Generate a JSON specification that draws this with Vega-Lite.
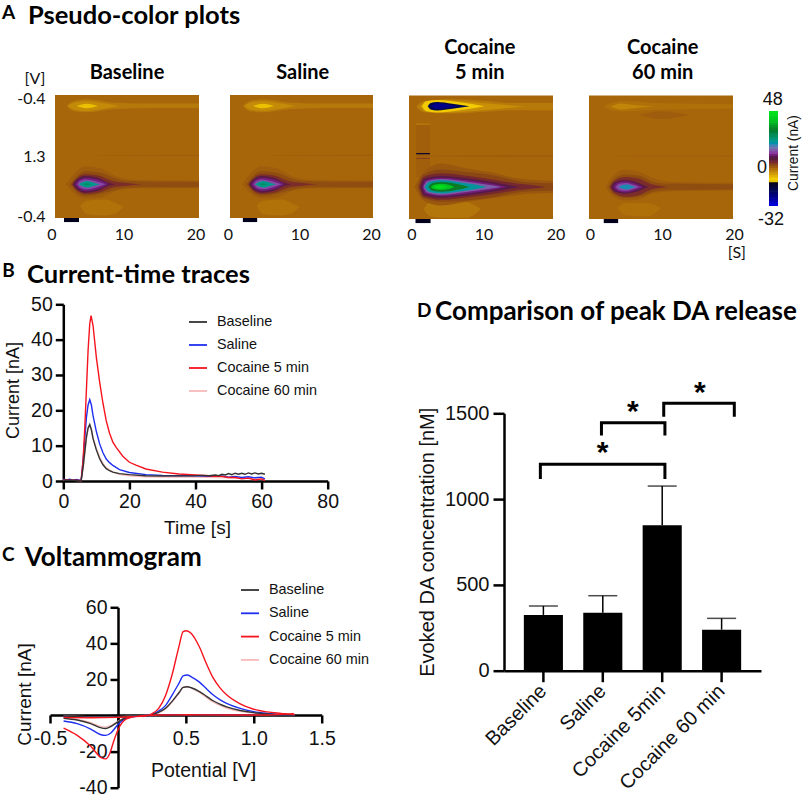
{"$schema":"https://vega.github.io/schema/vega-lite/v6.json","width":803,"height":797,"autosize":"none","padding":0,"background":"white",
"config":{"view":{"stroke":null},"axis":{"grid":false,"labelFont":"Liberation Sans","titleFont":"Liberation Sans","labelColor":"#111","titleColor":"#111","domainColor":"#000","tickColor":"#000","titleFontWeight":"normal","labelOverlap":false,"labelFlush":false,"labelFontSize":19.5,"titleFontSize":19,"domainWidth":2.5,"tickWidth":2.5,"tickSize":8,"labelPadding":3,"tickRound":false}},
"resolve":{"scale":{"x":"independent","y":"independent","color":"independent"},"axis":{"x":"independent","y":"independent"},"legend":{"color":"independent"}},
"datasets":{
"contours":[
{"p":"Baseline","c":"bg","v":0,"t":0,"lo":0,"hi":100},{"p":"Baseline","c":"bg","v":0,"t":20,"lo":0,"hi":100},
{"p":"Baseline","c":"hz","v":-1.2,"t":3.5,"lo":90,"hi":90},{"p":"Baseline","c":"hz","v":-1.2,"t":4.5,"lo":86,"hi":97},{"p":"Baseline","c":"hz","v":-1.2,"t":7,"lo":85,"hi":98},{"p":"Baseline","c":"hz","v":-1.2,"t":8.5,"lo":88,"hi":96},{"p":"Baseline","c":"hz","v":-1.2,"t":9.5,"lo":91,"hi":91},
{"p":"Baseline","c":"s1","v":-1.8,"t":1.6,"lo":9,"hi":9},{"p":"Baseline","c":"s1","v":-1.8,"t":2.5,"lo":5,"hi":13},{"p":"Baseline","c":"s1","v":-1.8,"t":4.5,"lo":3.5,"hi":14},{"p":"Baseline","c":"s1","v":-1.8,"t":8,"lo":6,"hi":11.5},{"p":"Baseline","c":"s1","v":-1.8,"t":14,"lo":7,"hi":10.5},{"p":"Baseline","c":"s1","v":-1.8,"t":20,"lo":7,"hi":10.5},
{"p":"Baseline","c":"s2","v":-3.5,"t":1.8,"lo":9,"hi":9},{"p":"Baseline","c":"s2","v":-3.5,"t":2.5,"lo":6.5,"hi":11.5},{"p":"Baseline","c":"s2","v":-3.5,"t":4.4,"lo":5,"hi":13},{"p":"Baseline","c":"s2","v":-3.5,"t":7,"lo":7,"hi":11},{"p":"Baseline","c":"s2","v":-3.5,"t":9,"lo":9,"hi":9},
{"p":"Baseline","c":"s3","v":-8,"t":3,"lo":9,"hi":9},{"p":"Baseline","c":"s3","v":-8,"t":4.4,"lo":7.2,"hi":10.8},{"p":"Baseline","c":"s3","v":-8,"t":6,"lo":9,"hi":9},
{"p":"Baseline","c":"ln","v":0.8,"t":6,"lo":48.8,"hi":49.2},{"p":"Baseline","c":"ln","v":0.8,"t":20,"lo":48.6,"hi":49.4},
{"p":"Baseline","c":"g1","v":0.8,"t":1.5,"lo":72.6,"hi":72.6},{"p":"Baseline","c":"g1","v":0.8,"t":2.5,"lo":65,"hi":79},{"p":"Baseline","c":"g1","v":0.8,"t":4.2,"lo":58,"hi":84},{"p":"Baseline","c":"g1","v":0.8,"t":6.5,"lo":60,"hi":83},{"p":"Baseline","c":"g1","v":0.8,"t":8.5,"lo":66,"hi":78},{"p":"Baseline","c":"g1","v":0.8,"t":11,"lo":69,"hi":76},{"p":"Baseline","c":"g1","v":0.8,"t":20,"lo":69.5,"hi":75.8},
{"p":"Baseline","c":"g2","v":2,"t":2.1,"lo":72.6,"hi":72.6},{"p":"Baseline","c":"g2","v":2,"t":3,"lo":66,"hi":79},{"p":"Baseline","c":"g2","v":2,"t":4.2,"lo":62,"hi":82},{"p":"Baseline","c":"g2","v":2,"t":6.5,"lo":63.5,"hi":80},{"p":"Baseline","c":"g2","v":2,"t":8.5,"lo":68,"hi":77},{"p":"Baseline","c":"g2","v":2,"t":10,"lo":69.8,"hi":75.4},{"p":"Baseline","c":"g2","v":2,"t":14,"lo":70.5,"hi":75},{"p":"Baseline","c":"g2","v":2,"t":20,"lo":70.5,"hi":75},
{"p":"Baseline","c":"g3","v":4.5,"t":2.35,"lo":72.6,"hi":72.6},{"p":"Baseline","c":"g3","v":4.5,"t":3,"lo":68,"hi":77.5},{"p":"Baseline","c":"g3","v":4.5,"t":4.2,"lo":64.5,"hi":80.5},{"p":"Baseline","c":"g3","v":4.5,"t":6,"lo":65.5,"hi":79.5},{"p":"Baseline","c":"g3","v":4.5,"t":8,"lo":70,"hi":75.2},{"p":"Baseline","c":"g3","v":4.5,"t":10,"lo":71.5,"hi":73.8},{"p":"Baseline","c":"g3","v":4.5,"t":12,"lo":72.6,"hi":72.6},
{"p":"Baseline","c":"p1","v":9,"t":2.5,"lo":72.6,"hi":72.6},{"p":"Baseline","c":"p1","v":9,"t":3,"lo":68.8,"hi":76.4},{"p":"Baseline","c":"p1","v":9,"t":4.2,"lo":65.8,"hi":79.4},{"p":"Baseline","c":"p1","v":9,"t":6,"lo":67.5,"hi":77.7},{"p":"Baseline","c":"p1","v":9,"t":7.6,"lo":71.8,"hi":73.4},{"p":"Baseline","c":"p1","v":9,"t":8.3,"lo":72.6,"hi":72.6},
{"p":"Baseline","c":"p2","v":11,"t":2.8,"lo":72.6,"hi":72.6},{"p":"Baseline","c":"p2","v":11,"t":3.2,"lo":69.5,"hi":75.7},{"p":"Baseline","c":"p2","v":11,"t":4.2,"lo":67.2,"hi":78},{"p":"Baseline","c":"p2","v":11,"t":6,"lo":68.8,"hi":76.4},{"p":"Baseline","c":"p2","v":11,"t":7.4,"lo":72.6,"hi":72.6},
{"p":"Baseline","c":"p3","v":14,"t":3.1,"lo":72.6,"hi":72.6},{"p":"Baseline","c":"p3","v":14,"t":3.5,"lo":70,"hi":75.2},{"p":"Baseline","c":"p3","v":14,"t":4.3,"lo":68.6,"hi":76.6},{"p":"Baseline","c":"p3","v":14,"t":5.8,"lo":70.3,"hi":74.9},{"p":"Baseline","c":"p3","v":14,"t":7,"lo":72.6,"hi":72.6},
{"p":"Baseline","c":"p4","v":23,"t":3.3,"lo":72.6,"hi":72.6},{"p":"Baseline","c":"p4","v":23,"t":3.8,"lo":71,"hi":74.2},{"p":"Baseline","c":"p4","v":23,"t":4.4,"lo":70,"hi":75.2},{"p":"Baseline","c":"p4","v":23,"t":5.5,"lo":71.5,"hi":73.7},{"p":"Baseline","c":"p4","v":23,"t":6.2,"lo":72.6,"hi":72.6},
{"p":"Baseline","c":"p5","v":27,"t":3.9,"lo":72.6,"hi":72.6},{"p":"Baseline","c":"p5","v":27,"t":4.4,"lo":71.8,"hi":73.4},{"p":"Baseline","c":"p5","v":27,"t":5,"lo":72.6,"hi":72.6},
{"p":"Baseline","c":"stim","v":-13,"t":1.25,"lo":100,"hi":103.3},{"p":"Baseline","c":"stim","v":-13,"t":3.33,"lo":100,"hi":103.3},

{"p":"Saline","c":"bg","v":0,"t":0,"lo":0,"hi":100},{"p":"Saline","c":"bg","v":0,"t":20,"lo":0,"hi":100},
{"p":"Saline","c":"hz","v":-1.2,"t":3.7,"lo":90,"hi":90},{"p":"Saline","c":"hz","v":-1.2,"t":4.7,"lo":86,"hi":97},{"p":"Saline","c":"hz","v":-1.2,"t":7.2,"lo":85,"hi":98},{"p":"Saline","c":"hz","v":-1.2,"t":8.7,"lo":88,"hi":96},{"p":"Saline","c":"hz","v":-1.2,"t":9.7,"lo":91,"hi":91},
{"p":"Saline","c":"s1","v":-1.8,"t":1.8,"lo":9,"hi":9},{"p":"Saline","c":"s1","v":-1.8,"t":2.7,"lo":5,"hi":13},{"p":"Saline","c":"s1","v":-1.8,"t":4.7,"lo":3.5,"hi":14},{"p":"Saline","c":"s1","v":-1.8,"t":8.2,"lo":6,"hi":11.5},{"p":"Saline","c":"s1","v":-1.8,"t":14,"lo":7,"hi":10.5},{"p":"Saline","c":"s1","v":-1.8,"t":20,"lo":7,"hi":10.5},
{"p":"Saline","c":"s2","v":-3.5,"t":2,"lo":9,"hi":9},{"p":"Saline","c":"s2","v":-3.5,"t":2.7,"lo":6.5,"hi":11.5},{"p":"Saline","c":"s2","v":-3.5,"t":4.6,"lo":5,"hi":13},{"p":"Saline","c":"s2","v":-3.5,"t":7.2,"lo":7,"hi":11},{"p":"Saline","c":"s2","v":-3.5,"t":9.2,"lo":9,"hi":9},
{"p":"Saline","c":"s3","v":-8,"t":3.2,"lo":9,"hi":9},{"p":"Saline","c":"s3","v":-8,"t":4.6,"lo":7.2,"hi":10.8},{"p":"Saline","c":"s3","v":-8,"t":6.2,"lo":9,"hi":9},
{"p":"Saline","c":"ln","v":0.8,"t":6,"lo":48.8,"hi":49.2},{"p":"Saline","c":"ln","v":0.8,"t":20,"lo":48.6,"hi":49.4},
{"p":"Saline","c":"g1","v":0.8,"t":1.7,"lo":72.6,"hi":72.6},{"p":"Saline","c":"g1","v":0.8,"t":2.7,"lo":65,"hi":79},{"p":"Saline","c":"g1","v":0.8,"t":4.4,"lo":58,"hi":84},{"p":"Saline","c":"g1","v":0.8,"t":6.7,"lo":60,"hi":83},{"p":"Saline","c":"g1","v":0.8,"t":8.7,"lo":66,"hi":78},{"p":"Saline","c":"g1","v":0.8,"t":11.2,"lo":69,"hi":76},{"p":"Saline","c":"g1","v":0.8,"t":20,"lo":69.5,"hi":75.8},
{"p":"Saline","c":"g2","v":2,"t":2.3,"lo":72.6,"hi":72.6},{"p":"Saline","c":"g2","v":2,"t":3.2,"lo":66,"hi":79},{"p":"Saline","c":"g2","v":2,"t":4.4,"lo":62,"hi":82},{"p":"Saline","c":"g2","v":2,"t":6.7,"lo":63.5,"hi":80},{"p":"Saline","c":"g2","v":2,"t":8.7,"lo":68,"hi":77},{"p":"Saline","c":"g2","v":2,"t":10.2,"lo":69.8,"hi":75.4},{"p":"Saline","c":"g2","v":2,"t":14,"lo":70.5,"hi":75},{"p":"Saline","c":"g2","v":2,"t":20,"lo":70.5,"hi":75},
{"p":"Saline","c":"g3","v":4.5,"t":2.55,"lo":72.6,"hi":72.6},{"p":"Saline","c":"g3","v":4.5,"t":3.2,"lo":68,"hi":77.5},{"p":"Saline","c":"g3","v":4.5,"t":4.4,"lo":64.5,"hi":80.5},{"p":"Saline","c":"g3","v":4.5,"t":6.2,"lo":65.5,"hi":79.5},{"p":"Saline","c":"g3","v":4.5,"t":8.2,"lo":70,"hi":75.2},{"p":"Saline","c":"g3","v":4.5,"t":10.2,"lo":71.5,"hi":73.8},{"p":"Saline","c":"g3","v":4.5,"t":12.2,"lo":72.6,"hi":72.6},
{"p":"Saline","c":"p1","v":9,"t":2.7,"lo":72.6,"hi":72.6},{"p":"Saline","c":"p1","v":9,"t":3.2,"lo":68.8,"hi":76.4},{"p":"Saline","c":"p1","v":9,"t":4.4,"lo":65.8,"hi":79.4},{"p":"Saline","c":"p1","v":9,"t":6.2,"lo":67.5,"hi":77.7},{"p":"Saline","c":"p1","v":9,"t":7.8,"lo":71.8,"hi":73.4},{"p":"Saline","c":"p1","v":9,"t":8.5,"lo":72.6,"hi":72.6},
{"p":"Saline","c":"p2","v":11,"t":3,"lo":72.6,"hi":72.6},{"p":"Saline","c":"p2","v":11,"t":3.4,"lo":69.5,"hi":75.7},{"p":"Saline","c":"p2","v":11,"t":4.4,"lo":67.2,"hi":78},{"p":"Saline","c":"p2","v":11,"t":6.2,"lo":68.8,"hi":76.4},{"p":"Saline","c":"p2","v":11,"t":7.6,"lo":72.6,"hi":72.6},
{"p":"Saline","c":"p3","v":14,"t":3.3,"lo":72.6,"hi":72.6},{"p":"Saline","c":"p3","v":14,"t":3.7,"lo":70,"hi":75.2},{"p":"Saline","c":"p3","v":14,"t":4.5,"lo":68.6,"hi":76.6},{"p":"Saline","c":"p3","v":14,"t":6,"lo":70.3,"hi":74.9},{"p":"Saline","c":"p3","v":14,"t":7.2,"lo":72.6,"hi":72.6},
{"p":"Saline","c":"p4","v":23,"t":3.5,"lo":72.6,"hi":72.6},{"p":"Saline","c":"p4","v":23,"t":4,"lo":71,"hi":74.2},{"p":"Saline","c":"p4","v":23,"t":4.6,"lo":70,"hi":75.2},{"p":"Saline","c":"p4","v":23,"t":5.7,"lo":71.5,"hi":73.7},{"p":"Saline","c":"p4","v":23,"t":6.4,"lo":72.6,"hi":72.6},
{"p":"Saline","c":"p5","v":27,"t":4.1,"lo":72.6,"hi":72.6},{"p":"Saline","c":"p5","v":27,"t":4.6,"lo":71.8,"hi":73.4},{"p":"Saline","c":"p5","v":27,"t":5.2,"lo":72.6,"hi":72.6},
{"p":"Saline","c":"stim","v":-13,"t":1.8,"lo":100,"hi":103.3},{"p":"Saline","c":"stim","v":-13,"t":3.8,"lo":100,"hi":103.3},

{"p":"Cocaine 5","c":"bg","v":0,"t":0,"lo":0,"hi":100},{"p":"Cocaine 5","c":"bg","v":0,"t":20,"lo":0,"hi":100},
{"p":"Cocaine 5","c":"strip","v":0.6,"t":1,"lo":23,"hi":66},{"p":"Cocaine 5","c":"strip","v":0.6,"t":2.9,"lo":23,"hi":66},
{"p":"Cocaine 5","c":"hz","v":-1.6,"t":2,"lo":92,"hi":92},{"p":"Cocaine 5","c":"hz","v":-1.6,"t":3,"lo":86,"hi":98},{"p":"Cocaine 5","c":"hz","v":-1.6,"t":5,"lo":84,"hi":99},{"p":"Cocaine 5","c":"hz","v":-1.6,"t":8,"lo":86,"hi":99},{"p":"Cocaine 5","c":"hz","v":-1.6,"t":10,"lo":92,"hi":92},
{"p":"Cocaine 5","c":"s1","v":-2,"t":1,"lo":9,"hi":9},{"p":"Cocaine 5","c":"s1","v":-2,"t":2,"lo":4.5,"hi":13.5},{"p":"Cocaine 5","c":"s1","v":-2,"t":6,"lo":3,"hi":14.5},{"p":"Cocaine 5","c":"s1","v":-2,"t":11,"lo":4.5,"hi":13},{"p":"Cocaine 5","c":"s1","v":-2,"t":14,"lo":6,"hi":12},{"p":"Cocaine 5","c":"s1","v":-2,"t":20,"lo":6,"hi":12},
{"p":"Cocaine 5","c":"s2","v":-4,"t":1.5,"lo":9,"hi":9},{"p":"Cocaine 5","c":"s2","v":-4,"t":2.3,"lo":5,"hi":13},{"p":"Cocaine 5","c":"s2","v":-4,"t":5,"lo":3.8,"hi":13.8},{"p":"Cocaine 5","c":"s2","v":-4,"t":9,"lo":5.5,"hi":12.5},{"p":"Cocaine 5","c":"s2","v":-4,"t":13,"lo":7.5,"hi":10.5},{"p":"Cocaine 5","c":"s2","v":-4,"t":16,"lo":9,"hi":9},
{"p":"Cocaine 5","c":"s3","v":-9,"t":1.8,"lo":8.7,"hi":8.7},{"p":"Cocaine 5","c":"s3","v":-9,"t":2.4,"lo":4.7,"hi":12.7},{"p":"Cocaine 5","c":"s3","v":-9,"t":4,"lo":3.6,"hi":13.8},{"p":"Cocaine 5","c":"s3","v":-9,"t":7,"lo":5.5,"hi":12},{"p":"Cocaine 5","c":"s3","v":-9,"t":10.5,"lo":8.7,"hi":8.7},
{"p":"Cocaine 5","c":"n1","v":-18,"t":2.6,"lo":8.7,"hi":8.7},{"p":"Cocaine 5","c":"n1","v":-18,"t":3,"lo":6,"hi":11.3},{"p":"Cocaine 5","c":"n1","v":-18,"t":3.9,"lo":5.3,"hi":12.1},{"p":"Cocaine 5","c":"n1","v":-18,"t":6,"lo":6.7,"hi":10.7},{"p":"Cocaine 5","c":"n1","v":-18,"t":8.4,"lo":8.7,"hi":8.7},
{"p":"Cocaine 5","c":"n2","v":-24,"t":3,"lo":8.7,"hi":8.7},{"p":"Cocaine 5","c":"n2","v":-24,"t":3.9,"lo":6.3,"hi":11},{"p":"Cocaine 5","c":"n2","v":-24,"t":5.5,"lo":7.5,"hi":10},{"p":"Cocaine 5","c":"n2","v":-24,"t":6.8,"lo":8.7,"hi":8.7},
{"p":"Cocaine 5","c":"o1","v":-3,"t":1,"lo":22.8,"hi":23.6},{"p":"Cocaine 5","c":"o1","v":-3,"t":2.9,"lo":22.8,"hi":23.6},
{"p":"Cocaine 5","c":"o2","v":-15,"t":1,"lo":46.6,"hi":47.6},{"p":"Cocaine 5","c":"o2","v":-15,"t":2.9,"lo":46.6,"hi":47.6},
{"p":"Cocaine 5","c":"o3","v":3,"t":1,"lo":50.6,"hi":51.4},{"p":"Cocaine 5","c":"o3","v":3,"t":2.9,"lo":50.6,"hi":51.4},
{"p":"Cocaine 5","c":"ln","v":1,"t":3,"lo":48.8,"hi":49.4},{"p":"Cocaine 5","c":"ln","v":1,"t":20,"lo":48.6,"hi":49.6},
{"p":"Cocaine 5","c":"g1","v":1.2,"t":0.8,"lo":74,"hi":74},{"p":"Cocaine 5","c":"g1","v":1.2,"t":2,"lo":62,"hi":85},{"p":"Cocaine 5","c":"g1","v":1.2,"t":4.5,"lo":55,"hi":89},{"p":"Cocaine 5","c":"g1","v":1.2,"t":8,"lo":59,"hi":86},{"p":"Cocaine 5","c":"g1","v":1.2,"t":12,"lo":63,"hi":83},{"p":"Cocaine 5","c":"g1","v":1.2,"t":15,"lo":67,"hi":80.5},{"p":"Cocaine 5","c":"g1","v":1.2,"t":20,"lo":69,"hi":79},
{"p":"Cocaine 5","c":"g2","v":2.6,"t":1.2,"lo":74,"hi":74},{"p":"Cocaine 5","c":"g2","v":2.6,"t":2,"lo":64,"hi":83},{"p":"Cocaine 5","c":"g2","v":2.6,"t":4.5,"lo":60,"hi":86},{"p":"Cocaine 5","c":"g2","v":2.6,"t":8,"lo":62,"hi":85},{"p":"Cocaine 5","c":"g2","v":2.6,"t":12,"lo":65,"hi":82},{"p":"Cocaine 5","c":"g2","v":2.6,"t":15,"lo":69,"hi":78.5},{"p":"Cocaine 5","c":"g2","v":2.6,"t":17,"lo":70.5,"hi":77.5},{"p":"Cocaine 5","c":"g2","v":2.6,"t":20,"lo":71,"hi":77},
{"p":"Cocaine 5","c":"g3","v":5,"t":1.4,"lo":74,"hi":74},{"p":"Cocaine 5","c":"g3","v":5,"t":2,"lo":66,"hi":82},{"p":"Cocaine 5","c":"g3","v":5,"t":4.5,"lo":63,"hi":84.5},{"p":"Cocaine 5","c":"g3","v":5,"t":8,"lo":65,"hi":82.5},{"p":"Cocaine 5","c":"g3","v":5,"t":12,"lo":68.5,"hi":79.5},{"p":"Cocaine 5","c":"g3","v":5,"t":15,"lo":71.2,"hi":76.8},{"p":"Cocaine 5","c":"g3","v":5,"t":17,"lo":72.5,"hi":75.5},{"p":"Cocaine 5","c":"g3","v":5,"t":19,"lo":74,"hi":74},
{"p":"Cocaine 5","c":"p1","v":9,"t":1.6,"lo":74,"hi":74},{"p":"Cocaine 5","c":"p1","v":9,"t":2.1,"lo":67.5,"hi":80.5},{"p":"Cocaine 5","c":"p1","v":9,"t":4.5,"lo":65.2,"hi":82.8},{"p":"Cocaine 5","c":"p1","v":9,"t":8,"lo":67,"hi":81},{"p":"Cocaine 5","c":"p1","v":9,"t":12,"lo":70.5,"hi":77.5},{"p":"Cocaine 5","c":"p1","v":9,"t":14.7,"lo":73.4,"hi":74.6},{"p":"Cocaine 5","c":"p1","v":9,"t":15.5,"lo":74,"hi":74},
{"p":"Cocaine 5","c":"p2","v":11,"t":1.85,"lo":74,"hi":74},{"p":"Cocaine 5","c":"p2","v":11,"t":2.3,"lo":68.5,"hi":79.5},{"p":"Cocaine 5","c":"p2","v":11,"t":4.5,"lo":66.5,"hi":81.5},{"p":"Cocaine 5","c":"p2","v":11,"t":8,"lo":68.5,"hi":79.5},{"p":"Cocaine 5","c":"p2","v":11,"t":11.5,"lo":71.5,"hi":76.5},{"p":"Cocaine 5","c":"p2","v":11,"t":13.6,"lo":74,"hi":74},
{"p":"Cocaine 5","c":"p3","v":15,"t":2,"lo":74,"hi":74},{"p":"Cocaine 5","c":"p3","v":15,"t":2.5,"lo":69.5,"hi":78.5},{"p":"Cocaine 5","c":"p3","v":15,"t":4.5,"lo":67.6,"hi":80.4},{"p":"Cocaine 5","c":"p3","v":15,"t":8,"lo":69.8,"hi":78.2},{"p":"Cocaine 5","c":"p3","v":15,"t":11,"lo":72.3,"hi":75.7},{"p":"Cocaine 5","c":"p3","v":15,"t":12.8,"lo":74,"hi":74},
{"p":"Cocaine 5","c":"p4","v":22,"t":2.2,"lo":74,"hi":74},{"p":"Cocaine 5","c":"p4","v":22,"t":2.8,"lo":70,"hi":78},{"p":"Cocaine 5","c":"p4","v":22,"t":4.5,"lo":68.6,"hi":79.4},{"p":"Cocaine 5","c":"p4","v":22,"t":7.5,"lo":70.6,"hi":77.4},{"p":"Cocaine 5","c":"p4","v":22,"t":9.5,"lo":72.5,"hi":75.5},{"p":"Cocaine 5","c":"p4","v":22,"t":10.8,"lo":74,"hi":74},
{"p":"Cocaine 5","c":"p5","v":32,"t":2.7,"lo":74,"hi":74},{"p":"Cocaine 5","c":"p5","v":32,"t":3.2,"lo":71,"hi":77},{"p":"Cocaine 5","c":"p5","v":32,"t":4.5,"lo":70,"hi":78},{"p":"Cocaine 5","c":"p5","v":32,"t":6.5,"lo":71.4,"hi":76.6},{"p":"Cocaine 5","c":"p5","v":32,"t":8.4,"lo":74,"hi":74},
{"p":"Cocaine 5","c":"p6","v":40,"t":3,"lo":74,"hi":74},{"p":"Cocaine 5","c":"p6","v":40,"t":3.6,"lo":72,"hi":76},{"p":"Cocaine 5","c":"p6","v":40,"t":4.5,"lo":71.4,"hi":76.6},{"p":"Cocaine 5","c":"p6","v":40,"t":5.5,"lo":72.2,"hi":75.8},{"p":"Cocaine 5","c":"p6","v":40,"t":6.3,"lo":74,"hi":74},
{"p":"Cocaine 5","c":"p7","v":46,"t":3.4,"lo":74,"hi":74},{"p":"Cocaine 5","c":"p7","v":46,"t":4.3,"lo":72.7,"hi":75.3},{"p":"Cocaine 5","c":"p7","v":46,"t":5.3,"lo":74,"hi":74},
{"p":"Cocaine 5","c":"stim","v":-13,"t":0.9,"lo":100,"hi":103.3},{"p":"Cocaine 5","c":"stim","v":-13,"t":3,"lo":100,"hi":103.3},

{"p":"Cocaine 60","c":"bg","v":0,"t":0,"lo":0,"hi":100},{"p":"Cocaine 60","c":"bg","v":0,"t":20,"lo":0,"hi":100},
{"p":"Cocaine 60","c":"hz","v":-1,"t":4,"lo":91,"hi":91},{"p":"Cocaine 60","c":"hz","v":-1,"t":5,"lo":87,"hi":97},{"p":"Cocaine 60","c":"hz","v":-1,"t":8,"lo":87,"hi":98},{"p":"Cocaine 60","c":"hz","v":-1,"t":10,"lo":91,"hi":91},
{"p":"Cocaine 60","c":"s1","v":-1,"t":2,"lo":9,"hi":9},{"p":"Cocaine 60","c":"s1","v":-1,"t":3,"lo":6,"hi":12},{"p":"Cocaine 60","c":"s1","v":-1,"t":5,"lo":4.5,"hi":13},{"p":"Cocaine 60","c":"s1","v":-1,"t":9,"lo":6,"hi":11.5},{"p":"Cocaine 60","c":"s1","v":-1,"t":20,"lo":7,"hi":10.5},
{"p":"Cocaine 60","c":"s2","v":-3,"t":3,"lo":9,"hi":9},{"p":"Cocaine 60","c":"s2","v":-3,"t":4.5,"lo":6.5,"hi":11.5},{"p":"Cocaine 60","c":"s2","v":-3,"t":6,"lo":7.5,"hi":10.5},{"p":"Cocaine 60","c":"s2","v":-3,"t":9,"lo":9,"hi":9},
{"p":"Cocaine 60","c":"sm","v":0.8,"t":7,"lo":16,"hi":16},{"p":"Cocaine 60","c":"sm","v":0.8,"t":10,"lo":13,"hi":19},{"p":"Cocaine 60","c":"sm","v":0.8,"t":14,"lo":16,"hi":16},
{"p":"Cocaine 60","c":"ln","v":0.8,"t":4,"lo":48.8,"hi":49.2},{"p":"Cocaine 60","c":"ln","v":0.8,"t":20,"lo":48.6,"hi":49.4},
{"p":"Cocaine 60","c":"g1","v":0.8,"t":2.3,"lo":74,"hi":74},{"p":"Cocaine 60","c":"g1","v":0.8,"t":3.2,"lo":66,"hi":81},{"p":"Cocaine 60","c":"g1","v":0.8,"t":5,"lo":60,"hi":85},{"p":"Cocaine 60","c":"g1","v":0.8,"t":7,"lo":62,"hi":84},{"p":"Cocaine 60","c":"g1","v":0.8,"t":9,"lo":67,"hi":79},{"p":"Cocaine 60","c":"g1","v":0.8,"t":12,"lo":70,"hi":77.5},{"p":"Cocaine 60","c":"g1","v":0.8,"t":20,"lo":70.5,"hi":77},
{"p":"Cocaine 60","c":"g2","v":2,"t":2.7,"lo":74,"hi":74},{"p":"Cocaine 60","c":"g2","v":2,"t":3.4,"lo":68,"hi":80},{"p":"Cocaine 60","c":"g2","v":2,"t":5,"lo":64,"hi":83},{"p":"Cocaine 60","c":"g2","v":2,"t":7,"lo":65,"hi":82},{"p":"Cocaine 60","c":"g2","v":2,"t":9,"lo":70,"hi":78},{"p":"Cocaine 60","c":"g2","v":2,"t":11,"lo":71.3,"hi":76.6},{"p":"Cocaine 60","c":"g2","v":2,"t":20,"lo":71.8,"hi":76.2},
{"p":"Cocaine 60","c":"g3","v":4.5,"t":2.9,"lo":74,"hi":74},{"p":"Cocaine 60","c":"g3","v":4.5,"t":3.5,"lo":69,"hi":79},{"p":"Cocaine 60","c":"g3","v":4.5,"t":5,"lo":66,"hi":82},{"p":"Cocaine 60","c":"g3","v":4.5,"t":7,"lo":67.5,"hi":80.5},{"p":"Cocaine 60","c":"g3","v":4.5,"t":8.5,"lo":71.5,"hi":76.5},{"p":"Cocaine 60","c":"g3","v":4.5,"t":11,"lo":74,"hi":74},
{"p":"Cocaine 60","c":"p1","v":9,"t":3.1,"lo":74,"hi":74},{"p":"Cocaine 60","c":"p1","v":9,"t":3.5,"lo":70.5,"hi":77.5},{"p":"Cocaine 60","c":"p1","v":9,"t":5,"lo":68.5,"hi":79.5},{"p":"Cocaine 60","c":"p1","v":9,"t":6.5,"lo":70,"hi":78},{"p":"Cocaine 60","c":"p1","v":9,"t":7.8,"lo":73,"hi":75},{"p":"Cocaine 60","c":"p1","v":9,"t":8.3,"lo":74,"hi":74},
{"p":"Cocaine 60","c":"p2","v":11,"t":3.4,"lo":74,"hi":74},{"p":"Cocaine 60","c":"p2","v":11,"t":3.8,"lo":71,"hi":77},{"p":"Cocaine 60","c":"p2","v":11,"t":5,"lo":69.5,"hi":78.5},{"p":"Cocaine 60","c":"p2","v":11,"t":6.5,"lo":71.5,"hi":76.5},{"p":"Cocaine 60","c":"p2","v":11,"t":7.5,"lo":74,"hi":74},
{"p":"Cocaine 60","c":"p3","v":14,"t":3.7,"lo":74,"hi":74},{"p":"Cocaine 60","c":"p3","v":14,"t":4.2,"lo":71.5,"hi":76.5},{"p":"Cocaine 60","c":"p3","v":14,"t":5.2,"lo":70.8,"hi":77.2},{"p":"Cocaine 60","c":"p3","v":14,"t":6.3,"lo":72.5,"hi":75.5},{"p":"Cocaine 60","c":"p3","v":14,"t":7,"lo":74,"hi":74},
{"p":"Cocaine 60","c":"p4","v":20,"t":4.1,"lo":74,"hi":74},{"p":"Cocaine 60","c":"p4","v":20,"t":4.7,"lo":72.5,"hi":75.5},{"p":"Cocaine 60","c":"p4","v":20,"t":5.3,"lo":72,"hi":76},{"p":"Cocaine 60","c":"p4","v":20,"t":5.9,"lo":73,"hi":75},{"p":"Cocaine 60","c":"p4","v":20,"t":6.4,"lo":74,"hi":74},
{"p":"Cocaine 60","c":"stim","v":-13,"t":2.05,"lo":100,"hi":103.3},{"p":"Cocaine 60","c":"stim","v":-13,"t":4.05,"lo":100,"hi":103.3}
],
"bar":[{"v":-31,"lo":-32,"hi":-29.5,"a":0,"b":1},{"v":-29,"lo":-30,"hi":-27.5,"a":0,"b":1},{"v":-27,"lo":-28,"hi":-25.5,"a":0,"b":1},{"v":-25,"lo":-26,"hi":-23.5,"a":0,"b":1},{"v":-23,"lo":-24,"hi":-21.5,"a":0,"b":1},{"v":-21,"lo":-22,"hi":-19.5,"a":0,"b":1},{"v":-19,"lo":-20,"hi":-17.5,"a":0,"b":1},{"v":-17,"lo":-18,"hi":-15.5,"a":0,"b":1},{"v":-15,"lo":-16,"hi":-13.5,"a":0,"b":1},{"v":-13,"lo":-14,"hi":-11.5,"a":0,"b":1},{"v":-11,"lo":-12,"hi":-9.5,"a":0,"b":1},{"v":-9,"lo":-10,"hi":-7.5,"a":0,"b":1},{"v":-7,"lo":-8,"hi":-5.5,"a":0,"b":1},{"v":-5,"lo":-6,"hi":-3.5,"a":0,"b":1},{"v":-3,"lo":-4,"hi":-1.5,"a":0,"b":1},{"v":-1,"lo":-2,"hi":0.5,"a":0,"b":1},{"v":1,"lo":0,"hi":2.5,"a":0,"b":1},{"v":3,"lo":2,"hi":4.5,"a":0,"b":1},{"v":5,"lo":4,"hi":6.5,"a":0,"b":1},{"v":7,"lo":6,"hi":8.5,"a":0,"b":1},{"v":9,"lo":8,"hi":10.5,"a":0,"b":1},{"v":11,"lo":10,"hi":12.5,"a":0,"b":1},{"v":13,"lo":12,"hi":14.5,"a":0,"b":1},{"v":15,"lo":14,"hi":16.5,"a":0,"b":1},{"v":17,"lo":16,"hi":18.5,"a":0,"b":1},{"v":19,"lo":18,"hi":20.5,"a":0,"b":1},{"v":21,"lo":20,"hi":22.5,"a":0,"b":1},{"v":23,"lo":22,"hi":24.5,"a":0,"b":1},{"v":25,"lo":24,"hi":26.5,"a":0,"b":1},{"v":27,"lo":26,"hi":28.5,"a":0,"b":1},{"v":29,"lo":28,"hi":30.5,"a":0,"b":1},{"v":31,"lo":30,"hi":32.5,"a":0,"b":1},{"v":33,"lo":32,"hi":34.5,"a":0,"b":1},{"v":35,"lo":34,"hi":36.5,"a":0,"b":1},{"v":37,"lo":36,"hi":38.5,"a":0,"b":1},{"v":39,"lo":38,"hi":40.5,"a":0,"b":1},{"v":41,"lo":40,"hi":42.5,"a":0,"b":1},{"v":43,"lo":42,"hi":44.5,"a":0,"b":1},{"v":45,"lo":44,"hi":46.5,"a":0,"b":1},{"v":47,"lo":46,"hi":48,"a":0,"b":1}],
"traces":[
{"c":"Cocaine 60 min","t":0,"y":0.3},{"c":"Cocaine 60 min","t":5.4,"y":0.1},{"c":"Cocaine 60 min","t":6,"y":3.5},{"c":"Cocaine 60 min","t":7,"y":12},{"c":"Cocaine 60 min","t":7.5,"y":14.8},{"c":"Cocaine 60 min","t":8,"y":15.8},{"c":"Cocaine 60 min","t":8.5,"y":14.5},{"c":"Cocaine 60 min","t":9,"y":12.2},{"c":"Cocaine 60 min","t":10,"y":9.2},{"c":"Cocaine 60 min","t":11,"y":6.8},{"c":"Cocaine 60 min","t":12,"y":5},{"c":"Cocaine 60 min","t":13,"y":3.7},{"c":"Cocaine 60 min","t":15,"y":2.5},{"c":"Cocaine 60 min","t":17,"y":1.9},{"c":"Cocaine 60 min","t":20,"y":1.5},{"c":"Cocaine 60 min","t":25,"y":1.2},{"c":"Cocaine 60 min","t":30,"y":1.1},{"c":"Cocaine 60 min","t":40,"y":1.1},{"c":"Cocaine 60 min","t":50,"y":0.9},{"c":"Cocaine 60 min","t":61,"y":0.5},
{"c":"Saline","t":0,"y":0.5},{"c":"Saline","t":1,"y":0.3},{"c":"Saline","t":2,"y":0.5},{"c":"Saline","t":3,"y":0.2},{"c":"Saline","t":4,"y":0.4},{"c":"Saline","t":5.4,"y":0.1},{"c":"Saline","t":6,"y":6},{"c":"Saline","t":7,"y":18},{"c":"Saline","t":7.5,"y":21.5},{"c":"Saline","t":8,"y":23},{"c":"Saline","t":8.5,"y":21.5},{"c":"Saline","t":9,"y":18.5},{"c":"Saline","t":10,"y":14},{"c":"Saline","t":11,"y":10.5},{"c":"Saline","t":12,"y":8},{"c":"Saline","t":13,"y":6.2},{"c":"Saline","t":14,"y":5.2},{"c":"Saline","t":15,"y":4.4},{"c":"Saline","t":17,"y":3.2},{"c":"Saline","t":20,"y":2.4},{"c":"Saline","t":25,"y":1.8},{"c":"Saline","t":30,"y":1.6},{"c":"Saline","t":40,"y":1.5},{"c":"Saline","t":44,"y":1.3},{"c":"Saline","t":48,"y":1.4},{"c":"Saline","t":50,"y":1.1},{"c":"Saline","t":52,"y":1.3},{"c":"Saline","t":54,"y":1},{"c":"Saline","t":56,"y":1.2},{"c":"Saline","t":58,"y":0.9},{"c":"Saline","t":60,"y":1.1},{"c":"Saline","t":61,"y":0.6},
{"c":"Cocaine 5 min","t":0,"y":0.3},{"c":"Cocaine 5 min","t":2,"y":0.2},{"c":"Cocaine 5 min","t":4,"y":0.2},{"c":"Cocaine 5 min","t":5.4,"y":0.1},{"c":"Cocaine 5 min","t":6,"y":6},{"c":"Cocaine 5 min","t":6.5,"y":15},{"c":"Cocaine 5 min","t":7,"y":26},{"c":"Cocaine 5 min","t":7.5,"y":37},{"c":"Cocaine 5 min","t":8,"y":44.5},{"c":"Cocaine 5 min","t":8.4,"y":46.8},{"c":"Cocaine 5 min","t":9,"y":44},{"c":"Cocaine 5 min","t":10,"y":35},{"c":"Cocaine 5 min","t":11,"y":28},{"c":"Cocaine 5 min","t":12,"y":22},{"c":"Cocaine 5 min","t":13,"y":17},{"c":"Cocaine 5 min","t":14,"y":13.5},{"c":"Cocaine 5 min","t":15,"y":11},{"c":"Cocaine 5 min","t":16,"y":9.5},{"c":"Cocaine 5 min","t":18,"y":7},{"c":"Cocaine 5 min","t":20,"y":5.3},{"c":"Cocaine 5 min","t":22,"y":4.5},{"c":"Cocaine 5 min","t":25,"y":3.4},{"c":"Cocaine 5 min","t":30,"y":2.5},{"c":"Cocaine 5 min","t":35,"y":2},{"c":"Cocaine 5 min","t":40,"y":1.7},{"c":"Cocaine 5 min","t":44,"y":1.5},{"c":"Cocaine 5 min","t":46,"y":1.3},{"c":"Cocaine 5 min","t":48,"y":1.3},{"c":"Cocaine 5 min","t":50,"y":1},{"c":"Cocaine 5 min","t":52,"y":1},{"c":"Cocaine 5 min","t":54,"y":0.6},{"c":"Cocaine 5 min","t":56,"y":0.8},{"c":"Cocaine 5 min","t":58,"y":0.3},{"c":"Cocaine 5 min","t":60,"y":0.6},{"c":"Cocaine 5 min","t":61,"y":0.1},
{"c":"Baseline","t":0,"y":0.2},{"c":"Baseline","t":3,"y":0.2},{"c":"Baseline","t":5.4,"y":0.1},{"c":"Baseline","t":6,"y":4},{"c":"Baseline","t":7,"y":12.5},{"c":"Baseline","t":7.5,"y":15},{"c":"Baseline","t":8,"y":16},{"c":"Baseline","t":8.5,"y":14.5},{"c":"Baseline","t":9,"y":12},{"c":"Baseline","t":10,"y":8.8},{"c":"Baseline","t":11,"y":6.3},{"c":"Baseline","t":12,"y":4.6},{"c":"Baseline","t":13,"y":3.5},{"c":"Baseline","t":14,"y":2.9},{"c":"Baseline","t":15,"y":2.5},{"c":"Baseline","t":17,"y":2.1},{"c":"Baseline","t":20,"y":1.8},{"c":"Baseline","t":25,"y":1.5},{"c":"Baseline","t":30,"y":1.4},{"c":"Baseline","t":40,"y":1.5},{"c":"Baseline","t":42,"y":1.6},{"c":"Baseline","t":44,"y":1.5},{"c":"Baseline","t":46,"y":1.7},{"c":"Baseline","t":47,"y":1.5},{"c":"Baseline","t":48,"y":1.9},{"c":"Baseline","t":49,"y":1.7},{"c":"Baseline","t":50,"y":2.1},{"c":"Baseline","t":51,"y":1.8},{"c":"Baseline","t":52,"y":2.2},{"c":"Baseline","t":53,"y":1.9},{"c":"Baseline","t":54,"y":2.2},{"c":"Baseline","t":55,"y":1.9},{"c":"Baseline","t":56,"y":2.3},{"c":"Baseline","t":57,"y":2},{"c":"Baseline","t":58,"y":2.3},{"c":"Baseline","t":59,"y":2},{"c":"Baseline","t":60,"y":2.2},{"c":"Baseline","t":61,"y":1.9}
],
"cv":[
{"c":"Cocaine 60 min","o":1,"x":-0.4,"y":-0.3},{"c":"Cocaine 60 min","o":2,"x":-0.1,"y":-0.7},{"c":"Cocaine 60 min","o":3,"x":0.1,"y":-0.4},{"c":"Cocaine 60 min","o":4,"x":0.2,"y":-0.1},{"c":"Cocaine 60 min","o":5,"x":0.3,"y":1.6},{"c":"Cocaine 60 min","o":6,"x":0.35,"y":3.6},{"c":"Cocaine 60 min","o":7,"x":0.4,"y":7.6},{"c":"Cocaine 60 min","o":8,"x":0.45,"y":12.5},{"c":"Cocaine 60 min","o":9,"x":0.48,"y":15.6},{"c":"Cocaine 60 min","o":10,"x":0.51,"y":16},{"c":"Cocaine 60 min","o":11,"x":0.54,"y":15.2},{"c":"Cocaine 60 min","o":12,"x":0.6,"y":12.8},{"c":"Cocaine 60 min","o":13,"x":0.65,"y":10},{"c":"Cocaine 60 min","o":14,"x":0.7,"y":7.5},{"c":"Cocaine 60 min","o":15,"x":0.75,"y":5.6},{"c":"Cocaine 60 min","o":16,"x":0.8,"y":4.2},{"c":"Cocaine 60 min","o":17,"x":0.9,"y":2.4},{"c":"Cocaine 60 min","o":18,"x":1,"y":1.4},{"c":"Cocaine 60 min","o":19,"x":1.3,"y":0.3},{"c":"Cocaine 60 min","o":20,"x":0.5,"y":0.3},{"c":"Cocaine 60 min","o":21,"x":0.2,"y":0},{"c":"Cocaine 60 min","o":22,"x":0.1,"y":-0.6},{"c":"Cocaine 60 min","o":23,"x":0.05,"y":-1.4},{"c":"Cocaine 60 min","o":24,"x":0,"y":-3.2},{"c":"Cocaine 60 min","o":25,"x":-0.05,"y":-5.4},{"c":"Cocaine 60 min","o":26,"x":-0.09,"y":-6.4},{"c":"Cocaine 60 min","o":27,"x":-0.13,"y":-6},{"c":"Cocaine 60 min","o":28,"x":-0.2,"y":-4},{"c":"Cocaine 60 min","o":29,"x":-0.3,"y":-2.2},{"c":"Cocaine 60 min","o":30,"x":-0.4,"y":-1.2},
{"c":"Saline","o":1,"x":-0.4,"y":-0.5},{"c":"Saline","o":2,"x":-0.1,"y":-1},{"c":"Saline","o":3,"x":0.1,"y":-0.5},{"c":"Saline","o":4,"x":0.2,"y":-0.1},{"c":"Saline","o":5,"x":0.3,"y":2.5},{"c":"Saline","o":6,"x":0.35,"y":5.5},{"c":"Saline","o":7,"x":0.4,"y":11.5},{"c":"Saline","o":8,"x":0.45,"y":18},{"c":"Saline","o":9,"x":0.48,"y":22},{"c":"Saline","o":10,"x":0.51,"y":22.5},{"c":"Saline","o":11,"x":0.54,"y":21.5},{"c":"Saline","o":12,"x":0.6,"y":18.5},{"c":"Saline","o":13,"x":0.65,"y":15},{"c":"Saline","o":14,"x":0.7,"y":11.5},{"c":"Saline","o":15,"x":0.75,"y":8.8},{"c":"Saline","o":16,"x":0.8,"y":6.8},{"c":"Saline","o":17,"x":0.9,"y":4},{"c":"Saline","o":18,"x":1,"y":2.2},{"c":"Saline","o":19,"x":1.1,"y":1.2},{"c":"Saline","o":20,"x":1.3,"y":0.3},{"c":"Saline","o":21,"x":1.1,"y":0.2},{"c":"Saline","o":22,"x":0.5,"y":0.4},{"c":"Saline","o":23,"x":0.2,"y":0},{"c":"Saline","o":24,"x":0.1,"y":-0.8},{"c":"Saline","o":25,"x":0.05,"y":-2},{"c":"Saline","o":26,"x":0,"y":-5},{"c":"Saline","o":27,"x":-0.05,"y":-9.5},{"c":"Saline","o":28,"x":-0.09,"y":-11},{"c":"Saline","o":29,"x":-0.13,"y":-10.5},{"c":"Saline","o":30,"x":-0.2,"y":-7.5},{"c":"Saline","o":31,"x":-0.3,"y":-4.5},{"c":"Saline","o":32,"x":-0.4,"y":-3},
{"c":"Baseline","o":1,"x":-0.4,"y":-0.3},{"c":"Baseline","o":2,"x":-0.1,"y":-0.8},{"c":"Baseline","o":3,"x":0.1,"y":-0.4},{"c":"Baseline","o":4,"x":0.2,"y":-0.1},{"c":"Baseline","o":5,"x":0.3,"y":1.8},{"c":"Baseline","o":6,"x":0.35,"y":4},{"c":"Baseline","o":7,"x":0.4,"y":8},{"c":"Baseline","o":8,"x":0.45,"y":12.8},{"c":"Baseline","o":9,"x":0.48,"y":15.6},{"c":"Baseline","o":10,"x":0.51,"y":16},{"c":"Baseline","o":11,"x":0.54,"y":15.4},{"c":"Baseline","o":12,"x":0.6,"y":13.3},{"c":"Baseline","o":13,"x":0.65,"y":10.8},{"c":"Baseline","o":14,"x":0.7,"y":8.2},{"c":"Baseline","o":15,"x":0.75,"y":6.3},{"c":"Baseline","o":16,"x":0.8,"y":4.8},{"c":"Baseline","o":17,"x":0.9,"y":2.8},{"c":"Baseline","o":18,"x":1,"y":1.6},{"c":"Baseline","o":19,"x":1.1,"y":0.9},{"c":"Baseline","o":20,"x":1.3,"y":0.3},{"c":"Baseline","o":21,"x":1.1,"y":0.2},{"c":"Baseline","o":22,"x":0.5,"y":0.3},{"c":"Baseline","o":23,"x":0.2,"y":0},{"c":"Baseline","o":24,"x":0.1,"y":-0.6},{"c":"Baseline","o":25,"x":0.05,"y":-1.5},{"c":"Baseline","o":26,"x":0,"y":-3.5},{"c":"Baseline","o":27,"x":-0.05,"y":-6},{"c":"Baseline","o":28,"x":-0.09,"y":-7.2},{"c":"Baseline","o":29,"x":-0.13,"y":-6.7},{"c":"Baseline","o":30,"x":-0.2,"y":-4.5},{"c":"Baseline","o":31,"x":-0.3,"y":-2.5},{"c":"Baseline","o":32,"x":-0.4,"y":-1.5},
{"c":"Cocaine 5 min","o":1,"x":-0.4,"y":-1},{"c":"Cocaine 5 min","o":2,"x":-0.2,"y":-1.2},{"c":"Cocaine 5 min","o":3,"x":0,"y":-1},{"c":"Cocaine 5 min","o":4,"x":0.1,"y":-0.7},{"c":"Cocaine 5 min","o":5,"x":0.2,"y":-0.3},{"c":"Cocaine 5 min","o":6,"x":0.25,"y":1},{"c":"Cocaine 5 min","o":7,"x":0.3,"y":4},{"c":"Cocaine 5 min","o":8,"x":0.35,"y":11},{"c":"Cocaine 5 min","o":9,"x":0.4,"y":23},{"c":"Cocaine 5 min","o":10,"x":0.45,"y":38.5},{"c":"Cocaine 5 min","o":11,"x":0.48,"y":46.5},{"c":"Cocaine 5 min","o":12,"x":0.505,"y":47},{"c":"Cocaine 5 min","o":13,"x":0.54,"y":45.5},{"c":"Cocaine 5 min","o":14,"x":0.6,"y":38},{"c":"Cocaine 5 min","o":15,"x":0.65,"y":29},{"c":"Cocaine 5 min","o":16,"x":0.7,"y":21},{"c":"Cocaine 5 min","o":17,"x":0.75,"y":15.5},{"c":"Cocaine 5 min","o":18,"x":0.8,"y":11.5},{"c":"Cocaine 5 min","o":19,"x":0.9,"y":6.5},{"c":"Cocaine 5 min","o":20,"x":1,"y":3.5},{"c":"Cocaine 5 min","o":21,"x":1.1,"y":2},{"c":"Cocaine 5 min","o":22,"x":1.2,"y":1.2},{"c":"Cocaine 5 min","o":23,"x":1.3,"y":0.5},{"c":"Cocaine 5 min","o":24,"x":1.29,"y":1},{"c":"Cocaine 5 min","o":25,"x":1.1,"y":0.3},{"c":"Cocaine 5 min","o":26,"x":0.8,"y":0.3},{"c":"Cocaine 5 min","o":27,"x":0.5,"y":0.4},{"c":"Cocaine 5 min","o":28,"x":0.3,"y":0.3},{"c":"Cocaine 5 min","o":29,"x":0.2,"y":0},{"c":"Cocaine 5 min","o":30,"x":0.1,"y":-1},{"c":"Cocaine 5 min","o":31,"x":0.05,"y":-2.5},{"c":"Cocaine 5 min","o":32,"x":0,"y":-8},{"c":"Cocaine 5 min","o":33,"x":-0.03,"y":-14},{"c":"Cocaine 5 min","o":34,"x":-0.06,"y":-21},{"c":"Cocaine 5 min","o":35,"x":-0.09,"y":-24},{"c":"Cocaine 5 min","o":36,"x":-0.12,"y":-23.5},{"c":"Cocaine 5 min","o":37,"x":-0.2,"y":-17},{"c":"Cocaine 5 min","o":38,"x":-0.3,"y":-11},{"c":"Cocaine 5 min","o":39,"x":-0.4,"y":-7}
]
},
"layer":[
{"transform":[{"filter":"datum.p=='Baseline'"}],"data":{"name":"contours"},"mark":{"type":"area","interpolate":"monotone"},
"encoding":{"x":{"field":"t","type":"quantitative","scale":{"domain":[0,20],"range":[55,199],"nice":false,"zero":false},"axis":{"orient":"bottom","offset":-579,"values":[0,10,20],"domain":false,"ticks":false,"tickSize":0,"labelFont":"Lato","labelFontSize":16,"labelPadding":8,"labelOffset":-3.5,"title":null}},
"y":{"field":"lo","type":"quantitative","scale":{"domain":[0,100],"range":[95,218],"nice":false,"zero":false},"axis":{"orient":"left","offset":-55,"values":[3,50,99],"labelExpr":"datum.value==50?'1.3':'-0.4'","domain":false,"ticks":false,"tickSize":0,"labelFont":"Lato","labelFontSize":16,"labelPadding":10,"title":null}},
"y2":{"field":"hi"},"detail":{"field":"c"},
"color":{"field":"v","type":"quantitative","legend":null,"scale":{"domain":[-32,-21.6,-12.5,-11.6,-9,-2,0,2.4,8,10.8,13,16.5,23.5,32,39,48],"range":["#0000e6","#00006e","#00001a","#e0c000","#f2cc00","#b67a0a","#a8660a","#8a4a10","#451a35","#701a75","#8a3aa0","#7a70a8","#1a9a80","#0a7a25","#00c020","#00e81a"]}}}},
{"transform":[{"filter":"datum.p=='Saline'"}],"data":{"name":"contours"},"mark":{"type":"area","interpolate":"monotone"},
"encoding":{"x":{"field":"t","type":"quantitative","scale":{"domain":[0,20],"range":[230,373],"nice":false,"zero":false},"axis":{"orient":"bottom","offset":-579,"values":[0,10,20],"domain":false,"ticks":false,"tickSize":0,"labelFont":"Lato","labelFontSize":16,"labelPadding":8,"labelOffset":-2,"title":null}},
"y":{"field":"lo","type":"quantitative","scale":{"domain":[0,100],"range":[95,218],"nice":false,"zero":false},"axis":null},
"y2":{"field":"hi"},"detail":{"field":"c"},
"color":{"field":"v","type":"quantitative","legend":null,"scale":{"domain":[-32,-21.6,-12.5,-11.6,-9,-2,0,2.4,8,10.8,13,16.5,23.5,32,39,48],"range":["#0000e6","#00006e","#00001a","#e0c000","#f2cc00","#b67a0a","#a8660a","#8a4a10","#451a35","#701a75","#8a3aa0","#7a70a8","#1a9a80","#0a7a25","#00c020","#00e81a"]}}}},
{"transform":[{"filter":"datum.p=='Cocaine 5'"}],"data":{"name":"contours"},"mark":{"type":"area","interpolate":"monotone"},
"encoding":{"x":{"field":"t","type":"quantitative","scale":{"domain":[0,20],"range":[409,553],"nice":false,"zero":false},"axis":{"orient":"bottom","offset":-579,"values":[0,10,20],"domain":false,"ticks":false,"tickSize":0,"labelFont":"Lato","labelFontSize":16,"labelPadding":8,"labelOffset":2.5,"title":null}},
"y":{"field":"lo","type":"quantitative","scale":{"domain":[0,100],"range":[95.5,219],"nice":false,"zero":false},"axis":null},
"y2":{"field":"hi"},"detail":{"field":"c"},
"color":{"field":"v","type":"quantitative","legend":null,"scale":{"domain":[-32,-21.6,-12.5,-11.6,-9,-2,0,2.4,8,10.8,13,16.5,23.5,32,39,48],"range":["#0000e6","#00006e","#00001a","#e0c000","#f2cc00","#b67a0a","#a8660a","#8a4a10","#451a35","#701a75","#8a3aa0","#7a70a8","#1a9a80","#0a7a25","#00c020","#00e81a"]}}}},
{"transform":[{"filter":"datum.p=='Cocaine 60'"}],"data":{"name":"contours"},"mark":{"type":"area","interpolate":"monotone"},
"encoding":{"x":{"field":"t","type":"quantitative","scale":{"domain":[0,20],"range":[589,733],"nice":false,"zero":false},"axis":{"orient":"bottom","offset":-579,"values":[0,10,20],"domain":false,"ticks":false,"tickSize":0,"labelFont":"Lato","labelFontSize":16,"labelPadding":8,"labelOffset":1,"title":null}},
"y":{"field":"lo","type":"quantitative","scale":{"domain":[0,100],"range":[95.5,219],"nice":false,"zero":false},"axis":null},
"y2":{"field":"hi"},"detail":{"field":"c"},
"color":{"field":"v","type":"quantitative","legend":null,"scale":{"domain":[-32,-21.6,-12.5,-11.6,-9,-2,0,2.4,8,10.8,13,16.5,23.5,32,39,48],"range":["#0000e6","#00006e","#00001a","#e0c000","#f2cc00","#b67a0a","#a8660a","#8a4a10","#451a35","#701a75","#8a3aa0","#7a70a8","#1a9a80","#0a7a25","#00c020","#00e81a"]}}}},

{"data":{"name":"bar"},"mark":"rect","encoding":{"x":{"field":"a","type":"quantitative","scale":{"domain":[0,1],"range":[769,778],"nice":false,"zero":false},"axis":null},"x2":{"field":"b"},"y":{"field":"lo","type":"quantitative","scale":{"domain":[-32,48],"range":[206,111],"nice":false,"zero":false},"axis":null},"y2":{"field":"hi"},"color":{"field":"v","type":"quantitative","legend":null,"scale":{"domain":[-32,-21.6,-12.5,-11.6,-9,-2,0,2.4,8,10.8,13,16.5,23.5,32,39,48],"range":["#0000e6","#00006e","#00001a","#e0c000","#f2cc00","#b67a0a","#a8660a","#8a4a10","#451a35","#701a75","#8a3aa0","#7a70a8","#1a9a80","#0a7a25","#00c020","#00e81a"]}}}},

{"encoding":{"x":{"field":"x","type":"quantitative","scale":{"domain":[0,1],"range":[769,778],"nice":false,"zero":false},"axis":null},"y":{"field":"lo","type":"quantitative","scale":{"domain":[-32,48],"range":[206,111],"nice":false,"zero":false},"axis":null},"text":{"field":"s"}},
"layer":[
{"data":{"values":[{"s":"48","x":0.41,"lo":57.3},{"s":"0","x":-0.78,"lo":0},{"s":"-32","x":0.22,"lo":-43.8}]},"mark":{"type":"text","font":"Liberation Sans","fontSize":18,"align":"center","baseline":"middle","color":"#111"}},
{"data":{"values":[{"s":"Current (nA)","x":2.78,"lo":12.6}]},"mark":{"type":"text","font":"Liberation Sans","fontSize":13.8,"align":"center","baseline":"middle","angle":270,"color":"#111"}}
]},

{"encoding":{"x":{"field":"x","type":"quantitative","scale":{"domain":[0,20],"range":[55,199],"nice":false,"zero":false},"axis":null},"y":{"field":"y","type":"quantitative","scale":{"domain":[0,100],"range":[95,218],"nice":false,"zero":false},"axis":null},"text":{"field":"s"}},
"layer":[
{"data":{"values":[{"s":"Pseudo-color plots","x":-3.75,"y":-64}]},"mark":{"type":"text","font":"Lato","fontWeight":"bold","fontSize":25.5,"align":"left","baseline":"middle","color":"#000"}},
{"data":{"values":[{"s":"A","x":-7.36,"y":-67}]},"mark":{"type":"text","font":"Lato","fontWeight":"bold","fontSize":19,"align":"left","baseline":"middle","color":"#000"}},
{"data":{"values":[{"s":"Baseline","x":10,"y":-17.9},{"s":"Saline","x":34.4,"y":-17.9},{"s":"Cocaine","x":59,"y":-38.2},{"s":"5 min","x":59,"y":-17.9},{"s":"Cocaine","x":84.4,"y":-38.2},{"s":"60 min","x":84.4,"y":-17.9}]},"mark":{"type":"text","font":"Lato","fontWeight":"bold","fontSize":20,"align":"center","baseline":"middle","color":"#000"}},
{"data":{"values":[{"s":"[V]","x":-2.8,"y":-13},{"s":"[S]","x":94.7,"y":128.5}]},"mark":{"type":"text","font":"Lato","fontSize":16,"align":"center","baseline":"middle","color":"#111"}}
]},

{"encoding":{"x":{"field":"t","type":"quantitative","scale":{"domain":[0,80],"range":[63.3,327.7],"nice":false,"zero":false},"axis":{"orient":"bottom","offset":-316,"values":[0,20,40,60,80],"title":"Time [s]","titleX":197,"titleY":46,"titleBaseline":"middle","titleAlign":"center"}},"y":{"field":"y","type":"quantitative","scale":{"domain":[0,50],"range":[481,304.3],"nice":false,"zero":false},"axis":{"orient":"left","offset":-63.3,"values":[0,10,20,30,40,50],"title":"Current [nA]","titleFontSize":18,"titleX":-50.3,"titleY":390,"titleBaseline":"middle","titleAlign":"center"}}},
"layer":[
{"data":{"name":"traces"},"mark":{"type":"line","strokeWidth":1.4,"clip":false},"encoding":{"color":{"field":"c","type":"nominal","scale":{"domain":["Baseline","Saline","Cocaine 5 min","Cocaine 60 min"],"range":["#333333","#1f2ff0","#f5141e","#f7b9b9"]},"legend":{"orient":"none","legendX":188,"legendY":312,"title":null,"symbolType":"stroke","symbolSize":324,"symbolStrokeWidth":1.8,"labelFont":"Liberation Sans","labelFontSize":14.4,"labelOffset":9,"rowPadding":6,"labelColor":"#111"}}}},
{"data":{"values":[{"s":"Current-time traces","t":-10.96,"y":58.4}]},"mark":{"type":"text","font":"Lato","fontWeight":"bold","fontSize":25.5,"align":"left","baseline":"middle","color":"#000"},"encoding":{"text":{"field":"s"}}},
{"data":{"values":[{"s":"B","t":-18.5,"y":59.5}]},"mark":{"type":"text","font":"Lato","fontWeight":"bold","fontSize":19,"align":"left","baseline":"middle","color":"#000"},"encoding":{"text":{"field":"s"}}}
]},

{"encoding":{"x":{"field":"x","type":"quantitative","scale":{"domain":[-0.5,1.5],"range":[50,321.7],"nice":false,"zero":false},"axis":{"orient":"bottom","offset":-82,"values":[-0.5,0,0.5,1,1.5],"labelExpr":"datum.value==0?'':datum.value==1?'1.0':''+datum.value","labelPadding":6,"title":"Potential [V]","titleFontSize":19.5,"titleX":203,"titleY":55,"titleBaseline":"middle","titleAlign":"center"}},"y":{"field":"y","type":"quantitative","scale":{"domain":[-40,60],"range":[787.7,607.3],"nice":false,"zero":false},"axis":{"orient":"left","offset":-118,"values":[-40,-20,0,20,40,60],"labelExpr":"datum.value==0?'':''+datum.value","title":"Current [nA]","titleX":-94,"titleY":694,"titleBaseline":"middle","titleAlign":"center"}}},
"layer":[
{"data":{"name":"cv"},"mark":{"type":"line","strokeWidth":1.4,"clip":false,"interpolate":"monotone"},"encoding":{"order":{"field":"o","type":"quantitative"},"color":{"field":"c","type":"nominal","scale":{"domain":["Baseline","Saline","Cocaine 5 min","Cocaine 60 min"],"range":["#333333","#1f2ff0","#f5141e","#f7b9b9"]},"legend":{"orient":"none","legendX":240,"legendY":580,"title":null,"symbolType":"stroke","symbolSize":324,"symbolStrokeWidth":1.8,"labelFont":"Liberation Sans","labelFontSize":14.4,"labelOffset":9,"rowPadding":6.3,"labelColor":"#111"}}}},
{"data":{"values":[{"s":"Voltammogram","x":-0.685,"y":87.6}]},"mark":{"type":"text","font":"Lato","fontWeight":"bold","fontSize":26,"align":"left","baseline":"middle","color":"#000"},"encoding":{"text":{"field":"s"}}},
{"data":{"values":[{"s":"C","x":-0.854,"y":89.2}]},"mark":{"type":"text","font":"Lato","fontWeight":"bold","fontSize":19,"align":"left","baseline":"middle","color":"#000"},"encoding":{"text":{"field":"s"}}}
]},

{"data":{"values":[{"cond":"Baseline","val":325,"up":377},{"cond":"Saline","val":338,"up":437},{"cond":"Cocaine 5min","val":847,"up":1076},{"cond":"Cocaine 60 min","val":239,"up":305}]},
"encoding":{"x":{"field":"cond","type":"nominal","sort":null,"scale":{"type":"band","range":[504,761],"paddingInner":0.342,"paddingOuter":0.334,"round":false},"axis":{"orient":"bottom","offset":-126.3,"labelAngle":-45,"labelAlign":"right","labelBaseline":"middle","labelFontSize":20,"tickSize":11,"labelPadding":6,"title":null}},"y":{"field":"val","type":"quantitative","scale":{"domain":[0,1500],"range":[670.7,413.3],"nice":false,"zero":false},"axis":{"orient":"left","offset":-504,"values":[0,500,1000,1500],"format":"d","labelFontSize":20,"tickSize":11,"labelPadding":4,"title":"Evoked DA concentration [nM]","titleFontSize":20,"titleX":-77,"titleY":541.7,"titleBaseline":"middle","titleAlign":"center"}}},
"layer":[
{"mark":{"type":"rule","color":"#000","strokeWidth":1.5},"encoding":{"y2":{"field":"up"}}},
{"mark":{"type":"tick","color":"#000","thickness":1.5,"size":29},"encoding":{"y":{"field":"up","type":"quantitative"}}},
{"mark":{"type":"bar","color":"#000"}}
]},

{"encoding":{"x":{"field":"x","type":"quantitative","scale":{"domain":[0.337,4.67],"range":[504,761],"nice":false,"zero":false},"axis":null},"y":{"field":"y","type":"quantitative","scale":{"domain":[0,1500],"range":[670.7,413.3],"nice":false,"zero":false},"axis":null}},
"layer":[
{"data":{"values":[{"b":1,"o":1,"x":0.95,"y":1117},{"b":1,"o":2,"x":0.95,"y":1203},{"b":1,"o":3,"x":3.05,"y":1203},{"b":1,"o":4,"x":3.05,"y":1117},{"b":2,"o":1,"x":1.98,"y":1370},{"b":2,"o":2,"x":1.98,"y":1445},{"b":2,"o":3,"x":3.05,"y":1445},{"b":2,"o":4,"x":3.05,"y":1370},{"b":3,"o":1,"x":3.03,"y":1480},{"b":3,"o":2,"x":3.03,"y":1558},{"b":3,"o":3,"x":4.22,"y":1558},{"b":3,"o":4,"x":4.22,"y":1480}]},"mark":{"type":"line","color":"#000","strokeWidth":3,"strokeJoin":"miter","clip":false},"encoding":{"detail":{"field":"b"},"order":{"field":"o","type":"quantitative"}}},
{"data":{"values":[{"s":"*","x":2,"y":1298},{"s":"*","x":2.51,"y":1537},{"s":"*","x":3.64,"y":1653}]},"mark":{"type":"text","font":"Liberation Sans","fontWeight":"bold","fontSize":30,"dy":5.5,"align":"center","baseline":"middle","color":"#000"},"encoding":{"text":{"field":"s"}}},
{"data":{"values":[{"s":"Comparison of peak DA release","x":-0.826,"y":2090}]},"mark":{"type":"text","font":"Lato","fontWeight":"bold","fontSize":26,"align":"left","baseline":"middle","color":"#000"},"encoding":{"text":{"field":"s"}}},
{"data":{"values":[{"s":"D","x":-1.13,"y":2096}]},"mark":{"type":"text","font":"Lato","fontWeight":"bold","fontSize":19,"align":"left","baseline":"middle","color":"#000"},"encoding":{"text":{"field":"s"}}}
]}
]}
